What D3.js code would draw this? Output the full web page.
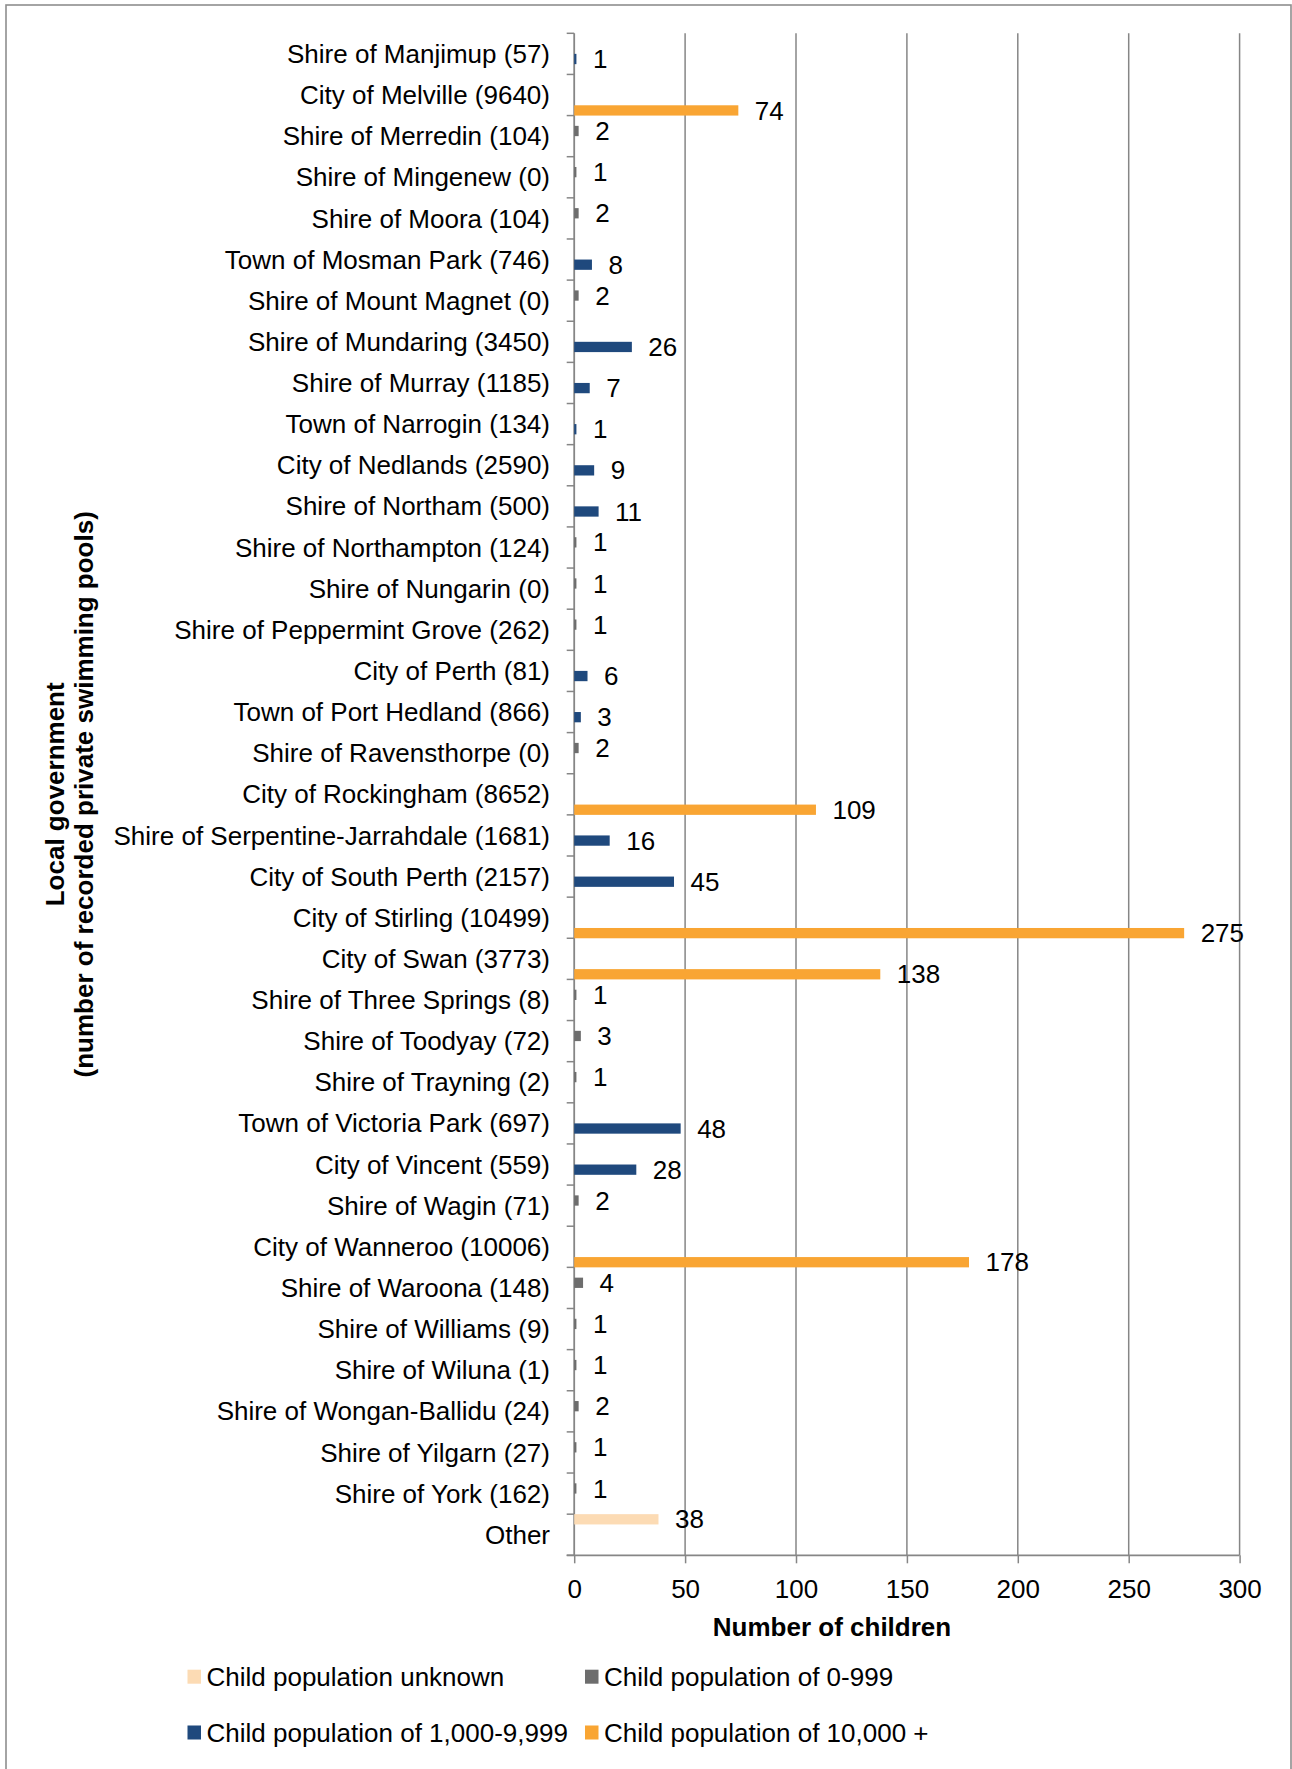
<!DOCTYPE html>
<html>
<head>
<meta charset="utf-8">
<script src="https://cdn.jsdelivr.net/npm/d3@7"></script>
<style>
  html, body { margin: 0; padding: 0; background: #fff; }
  svg { display: block; }
  text { font-family: "Liberation Sans", Arial, sans-serif; fill: #000; }
</style>
</head>
<body>
<script>
const width = 1292,
    height = 1769;

// categories top to bottom
const categories = [
    "Shire of Manjimup (57)",
    "City of Melville (9640)",
    "Shire of Merredin (104)",
    "Shire of Mingenew (0)",
    "Shire of Moora (104)",
    "Town of Mosman Park (746)",
    "Shire of Mount Magnet (0)",
    "Shire of Mundaring (3450)",
    "Shire of Murray (1185)",
    "Town of Narrogin (134)",
    "City of Nedlands (2590)",
    "Shire of Northam (500)",
    "Shire of Northampton (124)",
    "Shire of Nungarin (0)",
    "Shire of Peppermint Grove (262)",
    "City of Perth (81)",
    "Town of Port Hedland (866)",
    "Shire of Ravensthorpe (0)",
    "City of Rockingham (8652)",
    "Shire of Serpentine-Jarrahdale (1681)",
    "City of South Perth (2157)",
    "City of Stirling (10499)",
    "City of Swan (3773)",
    "Shire of Three Springs (8)",
    "Shire of Toodyay (72)",
    "Shire of Trayning (2)",
    "Town of Victoria Park (697)",
    "City of Vincent (559)",
    "Shire of Wagin (71)",
    "City of Wanneroo (10006)",
    "Shire of Waroona (148)",
    "Shire of Williams (9)",
    "Shire of Wiluna (1)",
    "Shire of Wongan-Ballidu (24)",
    "Shire of Yilgarn (27)",
    "Shire of York (162)",
    "Other"
];

const values = [1, 74, 2, 1, 2, 8, 2, 26, 7, 1, 9, 11, 1, 1, 1, 6, 3, 2, 109, 16,
    45, 275, 138, 1, 3, 1, 48, 28, 2, 178, 4, 1, 1, 2, 1, 1, 38];

// which series each value belongs to (index into seriesNames)
const seriesOf = [2, 3, 1, 1, 1, 2, 1, 2, 2, 2, 2, 2, 1, 1, 1, 2, 2, 1, 3, 2,
    2, 3, 3, 1, 1, 1, 2, 2, 1, 3, 1, 1, 1, 1, 1, 1, 0];

const seriesNames = [
    "Child population unknown",
    "Child population of 0-999",
    "Child population of 1,000-9,999",
    "Child population of 10,000 +"
];
const seriesColors = ["#fcdbb4", "#6d6d6d", "#1f497d", "#f9a533"];

const xTicks = [0, 50, 100, 150, 200, 250, 300];

const rows = categories.map((c, i) => ({name: c, value: values[i], series: seriesOf[i]}));

const svg = d3.select("body")
    .append("svg")
    .attr("width", width)
    .attr("height", height);

svg.append("rect")
    .attr("width", width)
    .attr("height", height)
    .attr("fill", "#fff");

// outer frame (runs off the bottom edge)
svg.append("rect")
    .attr("x", 6)
    .attr("y", 5)
    .attr("width", 1285)
    .attr("height", 1800)
    .attr("fill", "none")
    .attr("stroke", "#8e8e8e")
    .attr("stroke-width", 1.6);

const plot = {left: 574.2, right: 1239.6, top: 33.3, bottom: 1555.3};

const x = d3.scaleLinear()
    .domain([0, 300])
    .range([plot.left, plot.right]);

const y = d3.scaleBand()
    .domain(categories)
    .range([plot.top, plot.bottom])
    .padding(0);

const ySub = d3.scaleBand()
    .domain(d3.range(seriesNames.length))
    .range([0, y.bandwidth()])
    .padding(0);

const axisColor = "#868686";

// gridlines
svg.append("g")
    .selectAll("line")
    .data(xTicks.slice(1))
    .enter().append("line")
    .attr("x1", d => x(d))
    .attr("x2", d => x(d))
    .attr("y1", plot.top)
    .attr("y2", plot.bottom)
    .attr("stroke", axisColor)
    .attr("stroke-width", 1.5);

// x axis
const xAxis = svg.append("g")
    .attr("transform", "translate(0," + plot.bottom + ")")
    .call(d3.axisBottom(x).tickValues(xTicks).tickSize(8).tickSizeOuter(0).tickPadding(16));

xAxis.select(".domain").remove();
xAxis.selectAll(".tick line").attr("stroke", axisColor).attr("stroke-width", 1.5);
xAxis.selectAll(".tick text")
    .attr("font-size", 26)
    .attr("font-family", "Liberation Sans, Arial, sans-serif")
    .attr("fill", "#000");

svg.append("line")
    .attr("x1", plot.left - 7.5)
    .attr("x2", plot.right)
    .attr("y1", plot.bottom)
    .attr("y2", plot.bottom)
    .attr("stroke", axisColor)
    .attr("stroke-width", 1.8);

// y axis line + ticks at band edges
svg.append("line")
    .attr("x1", plot.left)
    .attr("x2", plot.left)
    .attr("y1", plot.top)
    .attr("y2", plot.bottom)
    .attr("stroke", axisColor)
    .attr("stroke-width", 1.8);

const edges = categories.map(c => y(c)).concat([plot.bottom]);
svg.append("g")
    .selectAll("line")
    .data(edges)
    .enter().append("line")
    .attr("x1", plot.left - 7.5)
    .attr("x2", plot.left)
    .attr("y1", d => d)
    .attr("y2", d => d)
    .attr("stroke", axisColor)
    .attr("stroke-width", 1.5);

// category labels
svg.append("g")
    .selectAll("text")
    .data(categories)
    .enter().append("text")
    .attr("x", 550)
    .attr("y", d => y(d) + y.bandwidth() / 2)
    .attr("dy", "0.35em")
    .attr("text-anchor", "end")
    .attr("font-size", 26)
    .text(d => d);

// bars
svg.append("g")
    .selectAll("rect")
    .data(rows)
    .enter().append("rect")
    .attr("x", x(0))
    .attr("y", d => y(d.name) + ySub(d.series))
    .attr("width", d => x(d.value) - x(0))
    .attr("height", ySub.bandwidth())
    .attr("fill", d => seriesColors[d.series]);

// value labels
svg.append("g")
    .selectAll("text")
    .data(rows)
    .enter().append("text")
    .attr("x", d => x(d.value) + 16.5)
    .attr("y", d => y(d.name) + ySub(d.series) + ySub.bandwidth() / 2)
    .attr("dy", "0.35em")
    .attr("font-size", 26)
    .text(d => d.value);

// axis titles
svg.append("text")
    .attr("x", 832)
    .attr("y", 1627)
    .attr("dy", "0.35em")
    .attr("text-anchor", "middle")
    .attr("font-size", 26)
    .attr("font-weight", "bold")
    .text("Number of children");

const yTitle = svg.append("text")
    .attr("transform", "translate(0," + ((plot.top + plot.bottom) / 2) + ") rotate(-90)")
    .attr("text-anchor", "middle")
    .attr("font-size", 26)
    .attr("font-weight", "bold");
yTitle.append("tspan").attr("x", 0).attr("y", 64).text("Local government");
yTitle.append("tspan").attr("x", 0).attr("y", 93).text("(number of recorded private swimming pools)");

// legend
const legendPos = [
    {x: 187.5, y: 1676.7},
    {x: 585, y: 1676.7},
    {x: 187.5, y: 1732.5},
    {x: 585, y: 1732.5}
];

const legend = svg.append("g")
    .selectAll("g")
    .data(seriesNames)
    .enter().append("g")
    .attr("transform", (d, i) => "translate(" + legendPos[i].x + "," + legendPos[i].y + ")");

legend.append("rect")
    .attr("x", 0)
    .attr("y", -7)
    .attr("width", 13.5)
    .attr("height", 14)
    .attr("fill", (d, i) => seriesColors[i]);

legend.append("text")
    .attr("x", 19)
    .attr("y", 0)
    .attr("dy", "0.35em")
    .attr("font-size", 26)
    .text(d => d);
</script>
</body>
</html>
